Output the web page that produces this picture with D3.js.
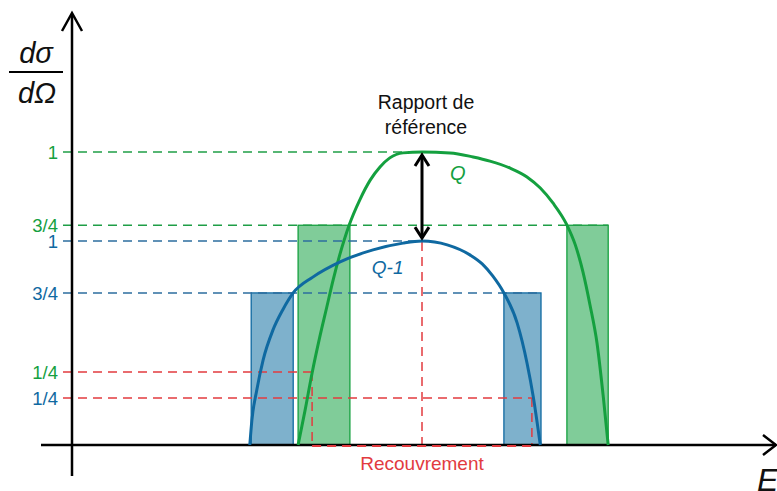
<!DOCTYPE html>
<html><head><meta charset="utf-8">
<script src="https://cdn.jsdelivr.net/npm/d3@7"></script>
<style>html,body{margin:0;padding:0;background:#fff;} svg{display:block;font-family:"Liberation Sans",Arial,sans-serif;}</style>
</head><body>
<script>
// ---- data (E in arbitrary units, cross-section normalised to Q peak = 1) ----
const energyQ  = [32.3, 33.3, 34.3, 35.4, 36.4, 37.3, 39.6, 41.1, 42.6, 44.0, 45.4, 47.3, 50.0, 54.0, 57.3, 59.7, 62.6, 65.0, 66.9, 68.7, 70.7, 71.9, 73.0, 74.0, 75.0, 75.9, 76.6];
const valueQ   = [0,    0.119,0.246,0.369,0.471,0.563,0.751,0.836,0.904,0.949,0.980,0.997,1.0,  0.997,0.983,0.969,0.945,0.915,0.877,0.826,0.751,0.683,0.590,0.478,0.348,0.164,0];
const energyQ1 = [25.4, 25.7, 26.4, 27.3, 28.7, 30.1, 31.6, 34.4, 38.3, 43.0, 47.3, 50.0, 53.6, 56.9, 58.6, 60.1, 61.7, 63.6, 65.0, 65.9, 66.9];
const valueQ1  = [0,    0.085,0.188,0.290,0.392,0.461,0.519,0.573,0.625,0.666,0.689,0.696,0.683,0.648,0.618,0.577,0.519,0.416,0.280,0.164,0];
const barStart  = [25.6, 32.3, 61.7, 70.7];
const barEnd    = [31.6, 39.7, 67.0, 76.6];
const barHeight = [0.519, 0.75, 0.519, 0.75];
const barSeries = ["Q-1", "Q", "Q-1", "Q"];
const tickValues = [1, 0.75, 0.696, 0.519, 0.249, 0.160];
const tickLabels = ["1", "3/4", "1", "3/4", "1/4", "1/4"];
const tickSeries = ["Q", "Q", "Q-1", "Q-1", "Q", "Q-1"];
const guideEnd   = [50, 76.6, 50, 67.0, 34.3, 65.7];
const guideKind  = ["Q", "Q", "Q-1", "Q-1", "red", "red"];
const peakE = 50;

const W = 777, H = 491;
const col = {Q: "#14a03f", "Q-1": "#0f69a1", red: "#e23b3f"};
const fill = {Q: "#80cc99", "Q-1": "#7eb1cc"};
const dashCol = {Q: "#1f9e47", "Q-1": "#2d6d9f", red: "#e23b3f"};

const x = d3.scaleLinear().domain([0, 100]).range([72, 772]);
const y = d3.scaleLinear().domain([0, 1]).range([445, 152]);
const tickLen = 9;

const svg = d3.select("body").append("svg").attr("width", W).attr("height", H);

// bars
svg.append("g").selectAll("rect").data(barStart).join("rect")
  .attr("x", (d) => x(d))
  .attr("y", (d, i) => y(barHeight[i]))
  .attr("width", (d, i) => x(barEnd[i]) - x(d))
  .attr("height", (d, i) => y(0) - y(barHeight[i]))
  .attr("fill", (d, i) => fill[barSeries[i]])
  .attr("stroke", (d, i) => col[barSeries[i]])
  .attr("stroke-width", 1.3);

// dashed guides
const g = svg.append("g").attr("fill", "none").attr("stroke-width", 1.5).attr("stroke-dasharray", "9,6");
tickValues.forEach((v, i) => {
  const k = guideKind[i];
  g.append("line").attr("x1", x(0) - tickLen).attr("x2", x(guideEnd[i]))
    .attr("y1", y(v)).attr("y2", y(v)).attr("stroke", dashCol[k]);
  if (k === "red") {
    g.append("line").attr("x1", x(guideEnd[i])).attr("x2", x(guideEnd[i]))
      .attr("y1", y(v)).attr("y2", y(0)).attr("stroke", dashCol.red);
  }
});
// red vertical at peak
g.append("line").attr("x1", x(peakE)).attr("x2", x(peakE)).attr("y1", y(1)).attr("y2", y(0)).attr("stroke", dashCol.red);

// axes
const ax = svg.append("g").attr("stroke", "#000").attr("fill", "none").attr("stroke-width", 2.5);
ax.append("line").attr("x1", 41).attr("x2", 776).attr("y1", y(0)).attr("y2", y(0));
ax.append("line").attr("x1", x(0)).attr("x2", x(0)).attr("y1", 476).attr("y2", 14);
ax.append("path").attr("d", `M${x(0)-10},31 L${x(0)},13 L${x(0)+10},31`);
ax.append("path").attr("d", `M763,435 L776,${y(0)} L763,455`);
// red overlap line along axis
svg.append("line").attr("x1", x(34.3)).attr("x2", x(65.7)).attr("y1", y(0) + 1).attr("y2", y(0) + 1)
  .attr("stroke", dashCol.red).attr("stroke-width", 2).attr("stroke-dasharray", "9,6");

// curves
const line = d3.line().curve(d3.curveMonotoneX);
svg.append("path").attr("d", line(energyQ.map((e, i) => [x(e), y(valueQ[i])])))
  .attr("fill", "none").attr("stroke", col.Q).attr("stroke-width", 3);
svg.append("path").attr("d", line(energyQ1.map((e, i) => [x(e), y(valueQ1[i])])))
  .attr("fill", "none").attr("stroke", col["Q-1"]).attr("stroke-width", 3);

// double arrow
const ar = svg.append("g").attr("stroke", "#000").attr("fill", "none").attr("stroke-width", 3);
const ay1 = y(1) + 3, ay2 = y(0.696) - 3;
ar.append("line").attr("x1", x(peakE)).attr("x2", x(peakE)).attr("y1", ay1).attr("y2", ay2);
ar.append("path").attr("d", `M${x(peakE)-7},${ay1+11} L${x(peakE)},${ay1} L${x(peakE)+7},${ay1+11}`);
ar.append("path").attr("d", `M${x(peakE)-7},${ay2-11} L${x(peakE)},${ay2} L${x(peakE)+7},${ay2-11}`);

// tick labels
svg.append("g").selectAll("text").data(tickValues).join("text")
  .attr("x", 58).attr("y", (d) => y(d)).attr("dy", "0.36em")
  .attr("text-anchor", "end").attr("font-size", 18.5)
  .attr("fill", (d, i) => col[tickSeries[i]]).text((d, i) => tickLabels[i]);

// annotations
svg.append("text").attr("x", x(55.1)).attr("y", y(0.93)).attr("dy", "0.36em")
  .attr("text-anchor", "middle").attr("font-size", 20).attr("font-style", "italic").attr("fill", col.Q).text("Q");
svg.append("text").attr("x", x(45.1)).attr("y", y(0.607)).attr("dy", "0.36em")
  .attr("text-anchor", "middle").attr("font-size", 19).attr("font-style", "italic").attr("fill", col["Q-1"]).text("Q-1");
svg.append("text").attr("x", x(peakE) + 4).attr("y", 109).attr("text-anchor", "middle").attr("font-size", 19.5).attr("fill", "#111").text("Rapport de");
svg.append("text").attr("x", x(peakE) + 4).attr("y", 134).attr("text-anchor", "middle").attr("font-size", 19.5).attr("fill", "#111").text("référence");
svg.append("text").attr("x", x(peakE)).attr("y", 470).attr("text-anchor", "middle").attr("font-size", 19).attr("fill", dashCol.red).text("Recouvrement");

// axis titles
svg.append("text").attr("x", 757).attr("y", 491).attr("font-size", 32).attr("font-style", "italic").attr("fill", "#111").text("E");
svg.append("text").attr("x", 36).attr("y", 63).attr("text-anchor", "middle").attr("font-size", 29).attr("font-style", "italic").attr("fill", "#111").text("dσ");
svg.append("line").attr("x1", 9).attr("x2", 63).attr("y1", 72).attr("y2", 72).attr("stroke", "#000").attr("stroke-width", 2);
svg.append("text").attr("x", 37).attr("y", 103).attr("text-anchor", "middle").attr("font-size", 29).attr("font-style", "italic").attr("fill", "#111").text("dΩ");
</script>
</body></html>
